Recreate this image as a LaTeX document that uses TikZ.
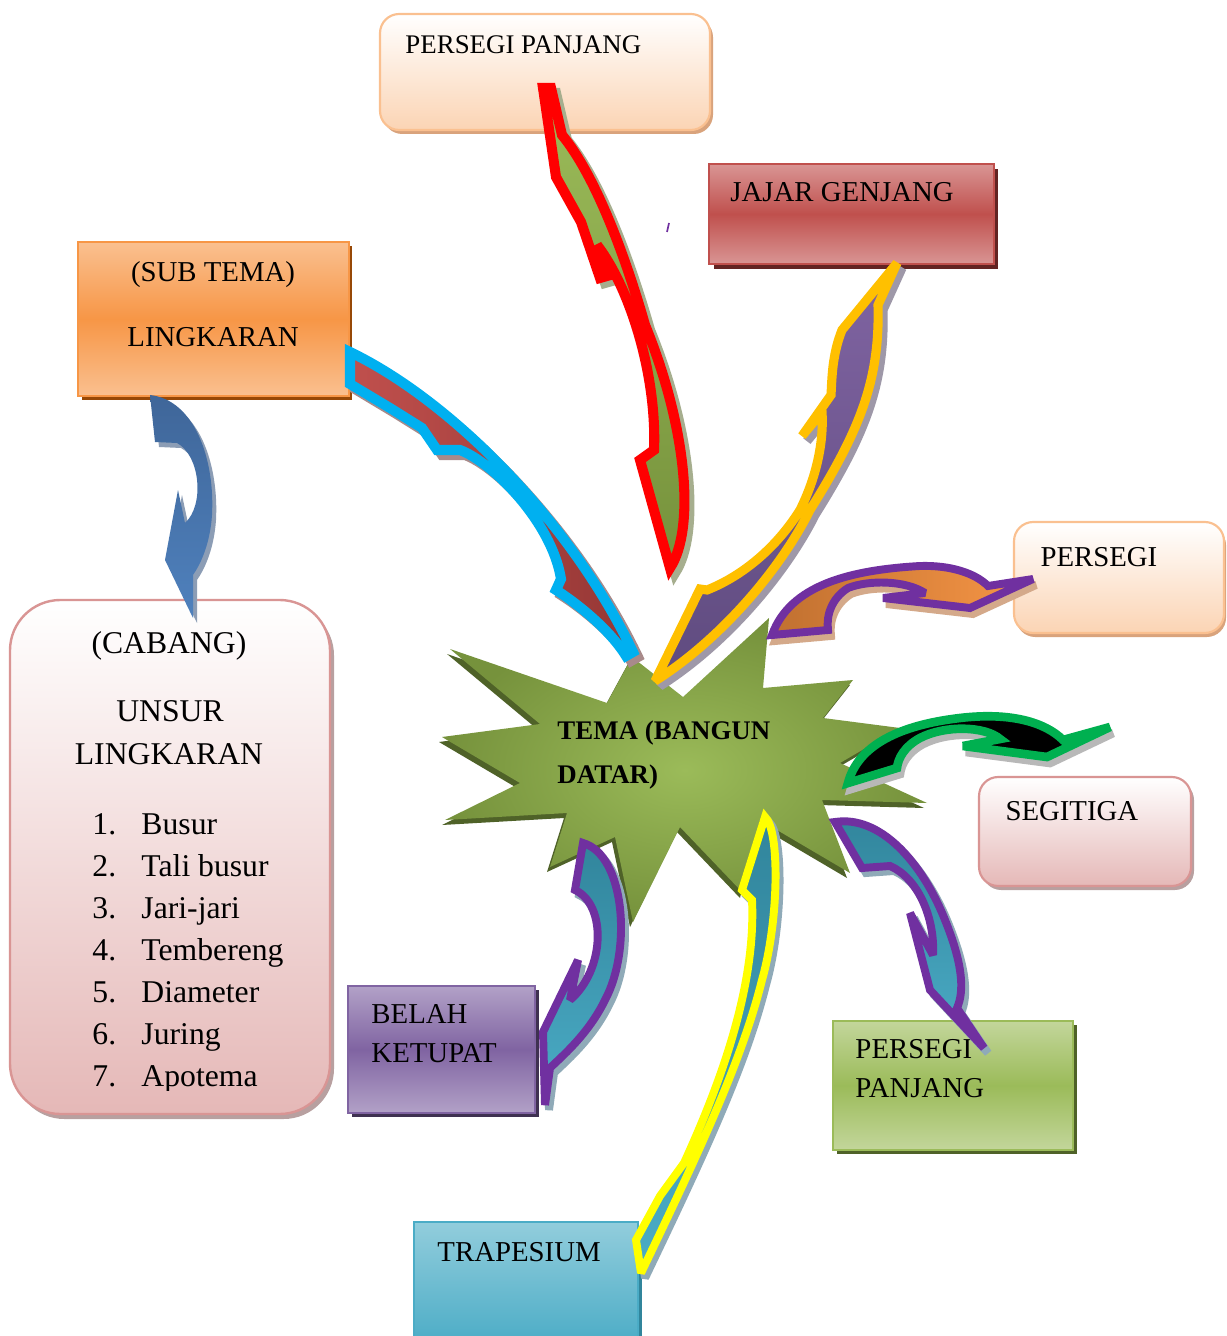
\documentclass[tikz,border=0pt]{standalone}
\usepackage{fontspec}
\setmainfont{Liberation Serif}
\definecolor{peach}{HTML}{FBD4B4}
\definecolor{bdPeach}{HTML}{FAC090}
\definecolor{shPeach}{HTML}{D9A37C}
\definecolor{redL}{HTML}{D99594}
\definecolor{redM}{HTML}{C0504D}
\definecolor{shRed}{HTML}{632423}
\definecolor{orL}{HTML}{FAC090}
\definecolor{orM}{HTML}{F79646}
\definecolor{shOr}{HTML}{974806}
\definecolor{pinkB}{HTML}{E5B8B7}
\definecolor{bdPink}{HTML}{D99594}
\definecolor{shPink}{HTML}{B8A0A0}
\definecolor{grL}{HTML}{C3D69B}
\definecolor{grM}{HTML}{9BBB59}
\definecolor{shGr}{HTML}{4F6228}
\definecolor{puL}{HTML}{B2A1C7}
\definecolor{puM}{HTML}{8064A2}
\definecolor{shPu}{HTML}{3F3151}
\definecolor{tqL}{HTML}{92CDDC}
\definecolor{tqM}{HTML}{4BACC6}
\definecolor{tqD}{HTML}{31859C}
\definecolor{starL}{HTML}{9BBB59}
\definecolor{starD}{HTML}{76923C}
\definecolor{starSh}{HTML}{4F6228}
\definecolor{cBlue}{HTML}{00B0F0}
\definecolor{cRed}{HTML}{FF0000}
\definecolor{cGold}{HTML}{FFC000}
\definecolor{cViolet}{HTML}{7030A0}
\definecolor{cGreen}{HTML}{00B050}
\definecolor{cYellow}{HTML}{FFFF00}
\definecolor{brickA}{HTML}{C0504D}
\definecolor{brickB}{HTML}{953735}
\definecolor{oliveA}{HTML}{9BBB59}
\definecolor{oliveB}{HTML}{76923C}
\definecolor{plumA}{HTML}{8064A2}
\definecolor{plumB}{HTML}{5F4B7F}
\definecolor{rustA}{HTML}{C07030}
\definecolor{rustB}{HTML}{F79646}
\definecolor{blueA}{HTML}{3F6699}
\definecolor{blueB}{HTML}{4F81BD}
\definecolor{shA}{HTML}{A88A8A}
\definecolor{shB}{HTML}{A6AE8E}
\definecolor{shC}{HTML}{9E98A8}
\definecolor{shD}{HTML}{D4A98A}
\definecolor{shE}{HTML}{B8B8B8}
\definecolor{shF}{HTML}{8FAAB8}
\definecolor{shI}{HTML}{8C9DB5}
\begin{document}
\begin{tikzpicture}[x=0.4167pt,y=-0.4167pt,
  lbl/.style={inner sep=0pt, anchor=base west, font=\fontsize{12}{14}\selectfont},
  lbls/.style={inner sep=0pt, anchor=base west, font=\fontsize{11.2}{13}\selectfont},
  lblc/.style={inner sep=0pt, anchor=base, font=\fontsize{12}{14}\selectfont},
  lbll/.style={inner sep=0pt, anchor=base west, font=\fontsize{13.2}{15}\selectfont},
  lbllc/.style={inner sep=0pt, anchor=base, font=\fontsize{13.2}{15}\selectfont},
  startxt/.style={inner sep=0pt, anchor=base west, font=\fontsize{11.2}{13}\selectfont\bfseries},
  arrow line/.style={line join=miter, miter limit=3},
]
\useasboundingbox (0,0) rectangle (1226,1336);
\fill[white] (0,0) rectangle (1226,1336);

% ---------- boxes ----------
% top PERSEGI PANJANG
\fill[shPeach, rounded corners=8pt] (383,18) rectangle (713,134);
\draw[draw=bdPeach, line width=0.9pt, rounded corners=8pt, top color=white, bottom color=peach] (380,14) rectangle (710,130);
% JAJAR GENJANG
\fill[shRed] (714,169) rectangle (998,269);
\draw[draw=redM, line width=1pt, top color=redL, bottom color=redL, middle color=redM] (709,164) rectangle (994,264);
% SUB TEMA LINGKARAN
\fill[shOr] (82,246) rectangle (352,400);
\draw[draw=orM, line width=0.8pt, top color=orL, bottom color=orL, middle color=orM] (78,242) rectangle (349,396);
% CABANG
\fill[shPink, rounded corners=21pt] (14,605) rectangle (334,1119);
\draw[draw=bdPink, line width=1pt, rounded corners=21pt, top color=white, bottom color=pinkB] (10,600) rectangle (330,1114);
% PERSEGI right
\fill[shPeach, rounded corners=8pt] (1016,526) rectangle (1226,637);
\draw[draw=bdPeach, line width=0.9pt, rounded corners=8pt, top color=white, bottom color=peach] (1014,522) rectangle (1224,633);
% SEGITIGA
\fill[shPink, rounded corners=8pt] (982,781) rectangle (1194,890);
\draw[draw=bdPink, line width=0.9pt, rounded corners=8pt, top color=white, bottom color=pinkB] (979,777) rectangle (1191,886);
% PERSEGI PANJANG green
\fill[shGr] (837,1025) rectangle (1077,1154);
\draw[draw=grM, line width=0.9pt, top color=grL, bottom color=grL, middle color=grM] (833,1021) rectangle (1073,1150);
% BELAH KETUPAT
\fill[shPu] (352,990) rectangle (539,1117);
\draw[draw=puM, line width=0.9pt, top color=puL, bottom color=puL, middle color=puM] (348,986) rectangle (535,1113);
% TRAPESIUM
\fill[tqD] (418,1226) rectangle (642,1345);
\draw[draw=tqM, line width=0.9pt, top color=tqL, bottom color=tqM] (414,1222) rectangle (638,1345);

% ---------- box texts ----------
\node[lbls] (tPP) at (405,54) {PERSEGI PANJANG};
\node[lbl] (tJG) at (730,202) {JAJAR GENJANG};
\node[lblc] (tST) at (213,282) {(SUB TEMA)};
\node[lblc] (tLK) at (213,347) {LINGKARAN};
\node[lbllc] (tCB) at (169,653) {(CABANG)};
\node[lbllc] (tUN) at (170,721) {UNSUR};
\node[lbllc] (tUL) at (169,764) {LINGKARAN};
\node[lbll] (n1) at (92,834) {1.};  \node[lbll] (i1) at (141,834) {Busur};
\node[lbll] (n2) at (92,876) {2.};  \node[lbll] (i2) at (141,876) {Tali busur};
\node[lbll] (n3) at (92,918) {3.};  \node[lbll] (i3) at (141,918) {Jari-jari};
\node[lbll] (n4) at (92,960) {4.};  \node[lbll] (i4) at (141,960) {Tembereng};
\node[lbll] (n5) at (92,1002) {5.}; \node[lbll] (i5) at (141,1002) {Diameter};
\node[lbll] (n6) at (92,1044) {6.}; \node[lbll] (i6) at (141,1044) {Juring};
\begin{scope}
\clip (0,0) rectangle (340,1090);
\node[lbll] (n7) at (92,1086) {7.}; \node[lbll] (i7) at (141,1086) {Apotema};
\end{scope}
\node[lbl] (tPS) at (1040,566) {PERSEGI};
\node[lbl] (tSG) at (1005,820) {SEGITIGA};
\node[lbl] (tPG1) at (855,1058) {PERSEGI};
\node[lbl] (tPG2) at (855,1097) {PANJANG};
\node[lbl] (tBL1) at (371,1023) {BELAH};
\node[lbl] (tBL2) at (371,1062) {KETUPAT};
\node[lbl] (tTR) at (437,1261) {TRAPESIUM};

% ---------- star ----------
\def\starpath{(442,737) -- (540,724) -- (450,649) -- (607,703) -- (632,657) -- (683,697) -- (769,618) -- (763,688) -- (853,680) -- (823,718) -- (900,728) -- (840,763) -- (927,803) -- (822,800) -- (850,873) -- (760,820) -- (743,893) -- (680,827) -- (633,922) -- (615,837) -- (550,867) -- (567,813) -- (445,820) -- (520,783) -- cycle}
\fill[starSh, shift={(-3,5)}] \starpath;
\shade[inner color=starL, outer color=starD] \starpath;
\node[startxt] (tema1) at (557,739) {TEMA (BANGUN};
\node[startxt] (tema2) at (557,783) {DATAR)};

% tiny stray mark
\draw[cViolet, line width=0.7pt] (669,223) -- (667,232);

% ---------- block arrows ----------
\def\arrA{(350,352) .. controls (450,400) and (570,520) .. (633,652) -- (626,656) .. controls (610,630) and (578,604) .. (556,590) -- (561,579) .. controls (552,522) and (492,462) .. (460,450) -- (437,450) -- (422,428) -- (390,408) -- (350,384) -- cycle}
\def\arrB{(543,88) -- (556,177) -- (581,222) -- (600,278) -- (607,276) -- (597,245) .. controls (630,288) and (657,375) .. (654,450) -- (640,460) -- (670,568) .. controls (695,530) and (688,430) .. (645,325) .. controls (625,255) and (595,175) .. (562,135) -- (551,88) -- cycle}
\def\arrC{(897,263) -- (842,330) .. controls (832,355) and (832,378) .. (831,395) -- (802,436) -- (822,412) .. controls (824,445) and (815,480) .. (800,510) .. controls (775,550) and (740,577) .. (707,590) -- (700,589) -- (655,681) .. controls (720,640) and (780,570) .. (810,510) .. controls (860,430) and (880,380) .. (878,305) -- cycle}
\def\arrD{(772,635) .. controls (790,585) and (850,570) .. (920,566) .. controls (950,565) and (975,573) .. (988,586) -- (1033,579) -- (970,608) -- (883,598) -- (925,593) .. controls (905,580) and (868,580) .. (848,588) .. controls (832,598) and (826,615) .. (828,630) -- cycle}
\def\arrE{(848,783) .. controls (858,745) and (900,725) .. (960,718) .. controls (1010,712) and (1045,722) .. (1063,740) -- (1110,727) -- (1047,757) -- (963,746) -- (1000,739) .. controls (985,726) and (945,725) .. (920,738) .. controls (905,746) and (898,758) .. (897,768) -- cycle}
\def\arrF{(835,822) .. controls (880,815) and (922,862) .. (945,920) .. controls (962,962) and (965,990) .. (957,1008) -- (984,1048) -- (930,990) -- (910,913) -- (933,955) .. controls (935,918) and (918,878) .. (890,866) -- (862,868) -- cycle}
\def\arrG{(583,843) .. controls (625,855) and (632,950) .. (605,1000) .. controls (588,1035) and (560,1058) .. (550,1068) -- (545,1105) -- (543,1032) -- (578,960) -- (570,1000) .. controls (605,970) and (607,905) .. (575,890) -- cycle}
\def\arrH{(765,817) .. controls (780,830) and (779,920) .. (762,980) .. controls (742,1060) and (700,1150) .. (641,1273) -- (636,1240) -- (660,1196) -- (684,1163) .. controls (722,1080) and (756,985) .. (752,900) -- (742,890) -- cycle}
\def\arrI{(150,395) .. controls (195,400) and (215,460) .. (212,515) .. controls (210,545) and (200,565) .. (193,575) -- (193,618) -- (165,560) -- (178,490) -- (185,523) .. controls (205,505) and (200,455) .. (177,443) -- (155,442) -- cycle}

% shadows
\filldraw[arrow line, shA, line width=4.2pt, shift={(5,5)}] \arrA;
\filldraw[arrow line, shB, line width=4.2pt, shift={(5,5)}] \arrB;
\filldraw[arrow line, shC, line width=3.8pt, shift={(5,5)}] \arrC;
\filldraw[arrow line, shD, line width=3.3pt, shift={(3,6)}] \arrD;
\filldraw[arrow line, shE, line width=3.6pt, shift={(3,6)}] \arrE;
\filldraw[arrow line, shF, line width=3.3pt, shift={(4,5)}] \arrF;
\filldraw[arrow line, shF, line width=3.3pt, shift={(4,5)}] \arrG;
\filldraw[arrow line, shF, line width=3.3pt, shift={(4,5)}] \arrH;
\fill[shI, shift={(4,5)}] \arrI;

% arrows
\draw[arrow line, draw=cBlue, line width=4.2pt, left color=brickA, right color=brickB] \arrA;
\draw[arrow line, draw=cRed, line width=4.2pt, top color=oliveA, bottom color=oliveB] \arrB;
\draw[arrow line, draw=cGold, line width=3.8pt, top color=plumA, bottom color=plumB] \arrC;
\draw[arrow line, draw=cViolet, line width=3.3pt, left color=rustA, right color=rustB] \arrD;
\draw[arrow line, draw=cGreen, line width=3.6pt, fill=black] \arrE;
\draw[arrow line, draw=cViolet, line width=3.3pt, top color=tqD, bottom color=tqM] \arrF;
\draw[arrow line, draw=cViolet, line width=3.3pt, top color=tqD, bottom color=tqM] \arrG;
\draw[arrow line, draw=cYellow, line width=3.3pt, top color=tqD, bottom color=tqM] \arrH;
\shade[top color=blueA, bottom color=blueB] \arrI;
\end{tikzpicture}
\end{document}
